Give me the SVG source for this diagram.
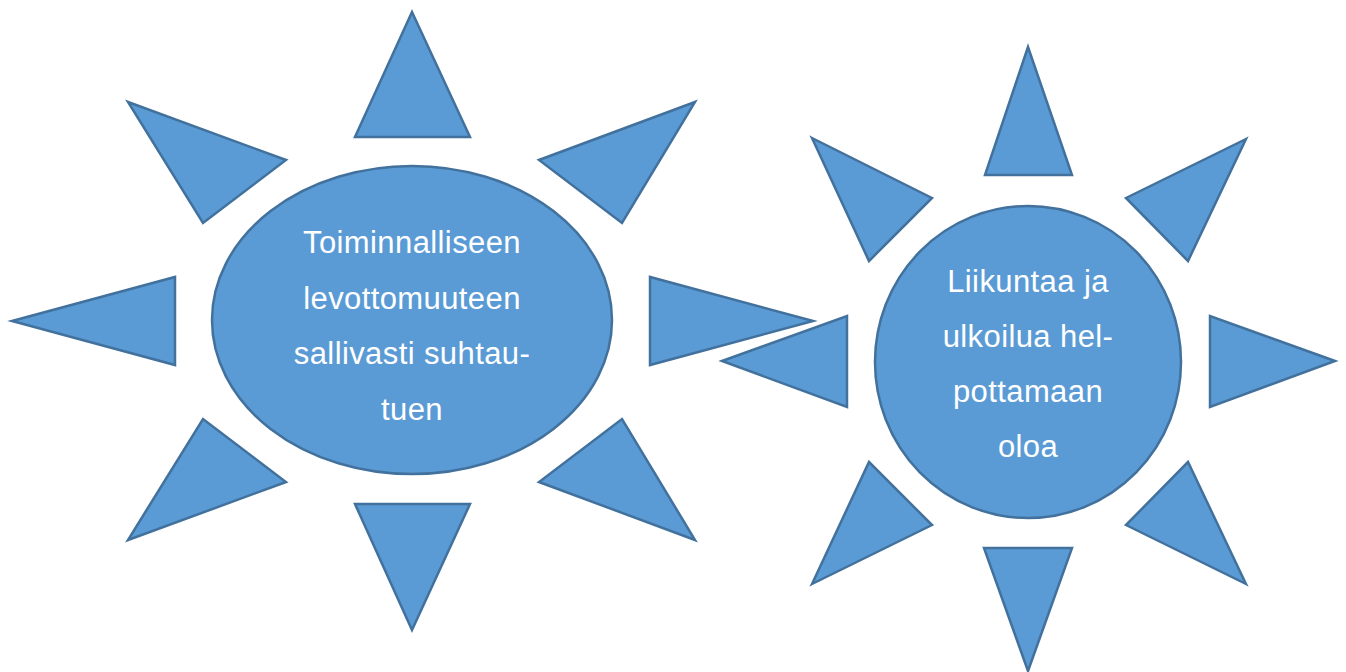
<svg xmlns="http://www.w3.org/2000/svg" width="1346" height="672" viewBox="0 0 1346 672">
<style>
.s{fill:#5B9BD5;stroke:#41719C;stroke-width:2.5;stroke-linejoin:miter}
.t{font-family:"Liberation Sans",Arial,sans-serif;font-size:31px;letter-spacing:0.4px;fill:#ffffff;text-anchor:middle}
</style>
<rect width="1346" height="672" fill="#ffffff"/>
<g id="sun1">
<polygon class="s" points="412,12 470,137 355,137"/>
<polygon class="s" points="412,630 470,504 355,504"/>
<polygon class="s" points="12,321 175,277 175,365"/>
<polygon class="s" points="813,321 650,277 650,365"/>
<polygon class="s" points="128,102 286,160 203,223"/>
<polygon class="s" points="695,102 539,160 622,223"/>
<polygon class="s" points="128,540 286,482 203,419"/>
<polygon class="s" points="695,540 539,482 622,419"/>
<ellipse class="s" cx="412" cy="320" rx="200" ry="154"/>
<text class="t" x="412" y="253">Toiminnalliseen</text>
<text class="t" x="412" y="309">levottomuuteen</text>
<text class="t" x="412" y="364">sallivasti suhtau-</text>
<text class="t" x="412" y="420">tuen</text>
</g>
<g id="sun2">
<polygon class="s" points="1028,47 1072,175 985,175"/>
<polygon class="s" points="1028,671 1072,548 984,548"/>
<polygon class="s" points="722,361 847,316 847,407"/>
<polygon class="s" points="1335,361 1210,316 1210,407"/>
<polygon class="s" points="812,138 932,198 869,261"/>
<polygon class="s" points="1246,139 1126,198 1188,261"/>
<polygon class="s" points="812,584 932,525 869,462"/>
<polygon class="s" points="1246,584 1126,525 1188,462"/>
<ellipse class="s" cx="1028" cy="362" rx="153" ry="156"/>
<text class="t" x="1028" y="292">Liikuntaa ja</text>
<text class="t" x="1028" y="347">ulkoilua hel-</text>
<text class="t" x="1028" y="402">pottamaan</text>
<text class="t" x="1028" y="457">oloa</text>
</g>
<g id="connectors"></g>
</svg>
